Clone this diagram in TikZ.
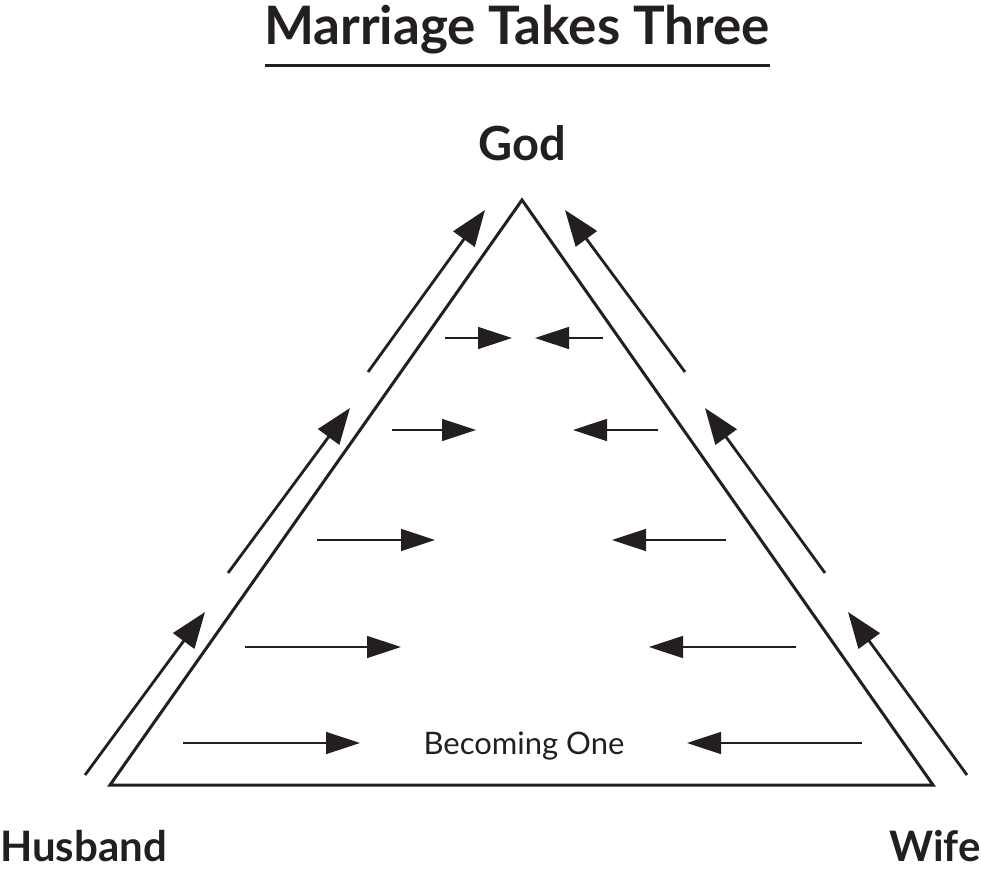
\documentclass[tikz,border=0pt]{standalone}
\usepackage{fontspec}
\setmainfont{Lato}
\usetikzlibrary{arrows.meta}
\definecolor{ink}{HTML}{231F20}
\begin{document}
\begin{tikzpicture}[x=1pt,y=-1pt,color=ink,
  tri/.style={line width=3pt,line join=miter},
  outer/.style={line width=2.8pt,-{Triangle[length=36pt,width=26pt]}},
  inner/.style={line width=1.5pt,-{Triangle[length=34pt,width=22pt]}},
  lbl/.style={font=\bfseries\fontsize{42}{46}\selectfont,inner sep=0pt}]
\useasboundingbox (0,0) rectangle (981,882);
\node[inner sep=0pt,font=\bfseries\fontsize{53}{56}\selectfont] (title) at (517,30) {Marriage Takes Three};
\draw[line width=3pt] (265,66) -- (770,66);
\node[lbl,font=\bfseries\fontsize{47}{50}\selectfont] (god) at (522,143) {God};
\node[lbl,anchor=west] (husband) at (0,846) {Husband};
\node[lbl,anchor=east] (wife) at (981,846) {Wife};
\coordinate (A) at (522,200);
\coordinate (L) at (110,785);
\coordinate (R) at (933,785);
\draw[tri] (A) -- (L) -- (R) -- cycle;
\node[inner sep=0pt,font=\fontsize{31}{34}\selectfont] (one) at (524,746) {Becoming One};
\foreach \a/\b/\c/\d [count=\i] in {85/775/205/612, 228/573/350/408, 368/372/485/210}{
  \coordinate (ls\i) at (\a,\b); \coordinate (le\i) at (\c,\d);
  \draw[outer] (ls\i) -- (le\i);}
\foreach \a/\b/\c/\d [count=\i] in {967/775/848/612, 825/573/705/408, 685/372/565/210}{
  \coordinate (rs\i) at (\a,\b); \coordinate (re\i) at (\c,\d);
  \draw[outer] (rs\i) -- (re\i);}
\foreach \y/\a/\b/\c/\d [count=\i] in {338/445/512/603/535, 430/392/476/658/573, 540/317/435/726/612, 647/245/401/796/649, 743/183/360/862/687}{
  \coordinate (ia\i) at (\a,\y); \coordinate (ib\i) at (\b,\y);
  \coordinate (ic\i) at (\c,\y); \coordinate (id\i) at (\d,\y);
  \draw[inner] (ia\i) -- (ib\i);
  \draw[inner] (ic\i) -- (id\i);}
\end{tikzpicture}
\end{document}
